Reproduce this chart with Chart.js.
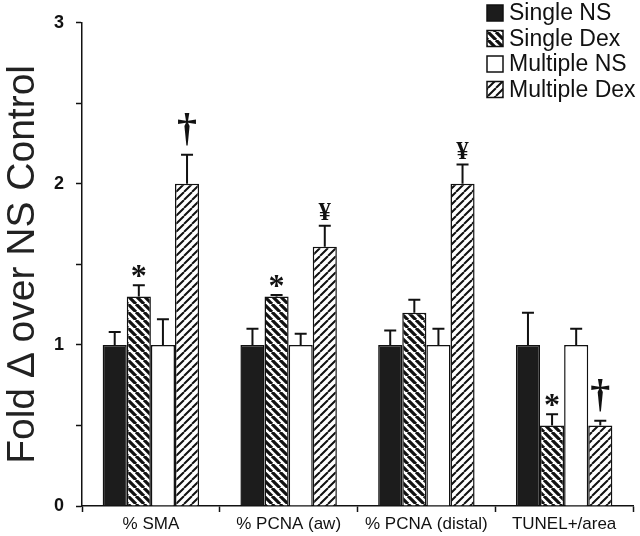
<!DOCTYPE html>
<html>
<head>
<meta charset="utf-8">
<script src="https://cdn.jsdelivr.net/npm/chart.js@4.4.1/dist/chart.umd.min.js"></script>
<style>
  html, body { margin: 0; padding: 0; background: #fff; }
  #wrap { width: 640px; height: 536px; }
</style>
</head>
<body>
<div id="wrap"><canvas id="foldChart"></canvas></div>
<script>
const categories = ["% SMA", "% PCNA (aw)", "% PCNA (distal)", "TUNEL+/area"];
const seriesNames = ["Single NS", "Single Dex", "Multiple NS", "Multiple Dex"];

const singleNs = [1.0, 1.0, 1.0, 1.0];
const singleNsErr = [0.08, 0.10, 0.09, 0.20];
const singleDex = [1.30, 1.30, 1.20, 0.50];
const singleDexErr = [0.07, 0.01, 0.08, 0.07];
const multipleNs = [1.0, 1.0, 1.0, 1.0];
const multipleNsErr = [0.16, 0.07, 0.10, 0.10];
const multipleDex = [2.00, 1.61, 2.00, 0.50];
const multipleDexErr = [0.18, 0.13, 0.12, 0.03];

const singleDexMarks = ["*", "*", "", "*"];
const multipleDexMarks = ["\u2020", "\u00A5", "\u00A5", "\u2020"];

const yTickLabels = ["0", "1", "2", "3"];

const FONT = "'Liberation Sans', Arial, sans-serif";

function stripes(dir, bg, fg, size, lw) {
  const c = document.createElement("canvas");
  c.width = size;
  c.height = size;
  const g = c.getContext("2d");
  g.fillStyle = bg;
  g.fillRect(0, 0, size, size);
  g.strokeStyle = fg;
  g.lineWidth = lw;
  g.beginPath();
  for (let k = -1; k <= 1; k++) {
    if (dir === "back") {
      g.moveTo(k * size, 0);
      g.lineTo(k * size + size, size);
    } else {
      g.moveTo(k * size, size);
      g.lineTo(k * size + size, 0);
    }
  }
  g.stroke();
  return g.createPattern(c, "repeat");
}

const backHatch = stripes("back", "#fff", "#111", 8, 3.2);
const fwdHatch = stripes("fwd", "#fff", "#111", 8, 2);

// error bars (upper only) + significance marks
const errorBars = {
  id: "errorBars",
  afterDatasetsDraw(chart) {
    const ctx = chart.ctx;
    const y = chart.scales.y;
    ctx.save();
    chart.data.datasets.forEach((ds, i) => {
      const meta = chart.getDatasetMeta(i);
      meta.data.forEach((bar, j) => {
        const top = y.getPixelForValue(ds.data[j] + ds.err[j]);
        const base = y.getPixelForValue(ds.data[j]);
        ctx.strokeStyle = "#111";
        ctx.lineWidth = 2;
        ctx.beginPath();
        ctx.moveTo(bar.x, base);
        ctx.lineTo(bar.x, top);
        ctx.moveTo(bar.x - 6, top);
        ctx.lineTo(bar.x + 6, top);
        ctx.stroke();
        const mark = ds.marks ? ds.marks[j] : "";
        if (mark) {
          ctx.fillStyle = "#111";
          ctx.textAlign = "center";
          ctx.textBaseline = "alphabetic";
          if (mark === "*") {
            ctx.font = "bold 32px 'Liberation Serif', serif";
            ctx.fillText(mark, bar.x, top + 1);
          } else if (mark === "\u2020") {
            ctx.font = "bold 40px 'Liberation Serif', serif";
            ctx.fillText(mark, bar.x, top - 14);
          } else {
            ctx.font = "bold 25px 'Liberation Serif', serif";
            ctx.fillText(mark, bar.x, top - 6);
          }
        }
      });
    });
    ctx.restore();
  }
};

// legend drawn inside the plot, top right
const boxLegend = {
  id: "boxLegend",
  afterDraw(chart) {
    const ctx = chart.ctx;
    ctx.save();
    chart.data.datasets.forEach((ds, i) => {
      const cy = 13 + i * 25.5;
      ctx.fillStyle = ds.backgroundColor;
      ctx.fillRect(487, cy - 8, 16, 16);
      ctx.strokeStyle = "#111";
      ctx.lineWidth = 1.5;
      ctx.strokeRect(487, cy - 8, 16, 16);
      ctx.fillStyle = "#111";
      ctx.font = "23px " + FONT;
      ctx.textAlign = "left";
      ctx.textBaseline = "middle";
      ctx.fillText(ds.label, 509, cy + 1);
    });
    ctx.restore();
  }
};

function makeSet(i, data, err, fill, marks) {
  return {
    label: seriesNames[i],
    data: data,
    err: err,
    marks: marks,
    backgroundColor: fill,
    borderColor: "#111",
    borderWidth: 1.5,
    categoryPercentage: 0.7,
    barPercentage: 1.0
  };
}

const ctx = document.getElementById("foldChart").getContext("2d");
new Chart(ctx, {
  type: "bar",
  data: {
    labels: categories,
    datasets: [
      makeSet(0, singleNs, singleNsErr, "#1c1c1c", null),
      makeSet(1, singleDex, singleDexErr, backHatch, singleDexMarks),
      makeSet(2, multipleNs, multipleNsErr, "#ffffff", null),
      makeSet(3, multipleDex, multipleDexErr, fwdHatch, multipleDexMarks)
    ]
  },
  options: {
    responsive: true,
    maintainAspectRatio: false,
    animation: false,
    layout: { padding: { top: 20, right: 7, left: 0, bottom: 0 } },
    plugins: {
      legend: { display: false },
      tooltip: { enabled: false }
    },
    scales: {
      x: {
        grid: {
          drawOnChartArea: false,
          drawTicks: true,
          tickLength: 6,
          tickColor: "#111",
          tickWidth: 1.5
        },
        border: { display: true, color: "#111", width: 1.5 },
        ticks: {
          color: "#111",
          padding: 2,
          font: { family: FONT, size: 17 }
        },
        afterFit(scale) { scale.height = 30; }
      },
      y: {
        min: 0,
        max: 3,
        grid: {
          drawOnChartArea: false,
          drawTicks: true,
          tickLength: 6,
          tickColor: "#111",
          tickWidth: 1.5
        },
        border: { display: true, color: "#111", width: 1.5 },
        ticks: {
          stepSize: 0.5,
          color: "#111",
          padding: 12,
          font: { family: FONT, size: 18, weight: "bold" },
          callback: (v) => (Number.isInteger(v) ? yTickLabels[v] : "")
        },
        title: {
          display: true,
          text: "Fold \u2206 over NS Control",
          color: "#222",
          padding: { top: 0, bottom: 0 },
          font: { family: FONT, size: 39 }
        },
        afterFit(scale) { scale.width = 82; }
      }
    }
  },
  plugins: [errorBars, boxLegend]
});
</script>
</body>
</html>
